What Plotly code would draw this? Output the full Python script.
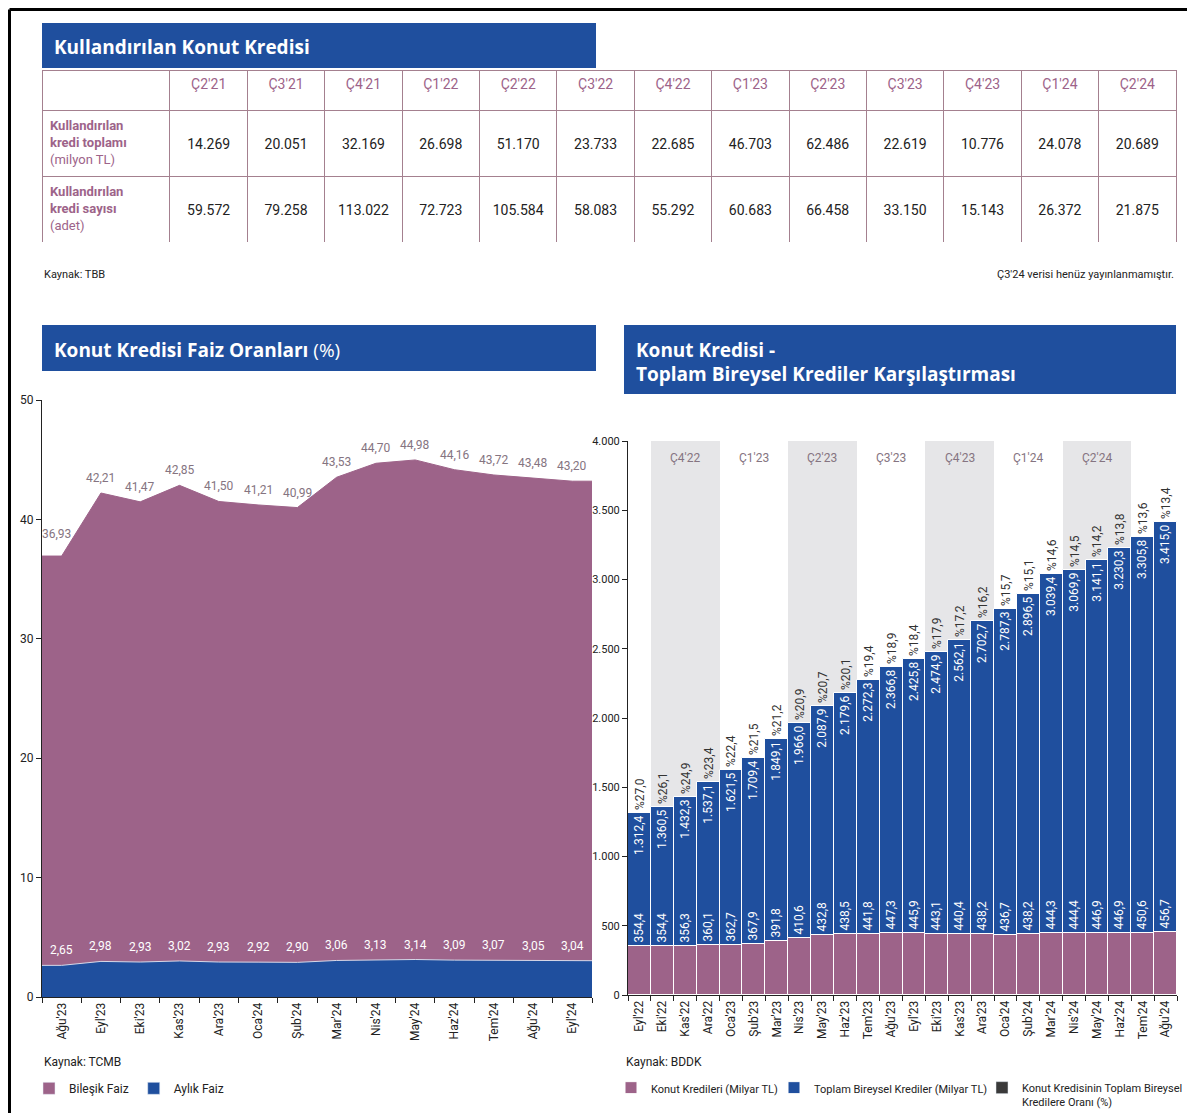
import plotly.graph_objects as go

# the page has an 8px body margin, so the figure is sized to fill the rest of the window
OFF = 8
W, H = 1195 - OFF, 1113 - OFF

# --- Kullandırılan konut kredisi (TBB) ---
table_quarters = ["Ç2'21", "Ç3'21", "Ç4'21", "Ç1'22", "Ç2'22", "Ç3'22", "Ç4'22",
                  "Ç1'23", "Ç2'23", "Ç3'23", "Ç4'23", "Ç1'24", "Ç2'24"]
credit_total = [14269, 20051, 32169, 26698, 51170, 23733, 22685, 46703, 62486, 22619, 10776, 24078, 20689]
credit_count = [59572, 79258, 113022, 72723, 105584, 58083, 55292, 60683, 66458, 33150, 15143, 26372, 21875]
row_labels = ["<b>Kullandırılan<br>kredi toplamı</b><br>(milyon TL)",
              "<b>Kullandırılan<br>kredi sayısı</b><br>(adet)"]

# --- Konut kredisi faiz oranları (TCMB) ---
rate_months = ["Ağu'23", "Eyl'23", "Eki'23", "Kas'23", "Ara'23", "Oca'24", "Şub'24",
               "Mar'24", "Nis'24", "May'24", "Haz'24", "Tem'24", "Ağu'24", "Eyl'24"]
compound_rate = [36.93, 42.21, 41.47, 42.85, 41.50, 41.21, 40.99, 43.53, 44.70, 44.98, 44.16, 43.72, 43.48, 43.20]
monthly_rate = [2.65, 2.98, 2.93, 3.02, 2.93, 2.92, 2.90, 3.06, 3.13, 3.14, 3.09, 3.07, 3.05, 3.04]

# --- Konut kredisi / toplam bireysel krediler (BDDK) ---
loan_months = ["Eyl'22", "Eki'22", "Kas'22", "Ara'22", "Oca'23", "Şub'23", "Mar'23", "Nis'23",
               "May'23", "Haz'23", "Tem'23", "Ağu'23", "Eyl'23", "Eki'23", "Kas'23", "Ara'23",
               "Oca'24", "Şub'24", "Mar'24", "Nis'24", "May'24", "Haz'24", "Tem'24", "Ağu'24"]
total_loans = [1312.4, 1360.5, 1432.3, 1537.1, 1621.5, 1709.4, 1849.1, 1966.0, 2087.9, 2179.6, 2272.3, 2366.8,
               2425.8, 2474.9, 2562.1, 2702.7, 2787.3, 2896.5, 3039.4, 3069.9, 3141.1, 3230.3, 3305.8, 3415.0]
housing_loans = [354.4, 354.4, 356.3, 360.1, 362.7, 367.9, 391.8, 410.6, 432.8, 438.5, 441.8, 447.3,
                 445.9, 443.1, 440.4, 438.2, 436.7, 438.2, 444.3, 444.4, 446.9, 446.9, 450.6, 456.7]
housing_share = [27.0, 26.1, 24.9, 23.4, 22.4, 21.5, 21.2, 20.9, 20.7, 20.1, 19.4, 18.9,
                 18.4, 17.9, 17.2, 16.2, 15.7, 15.1, 14.6, 14.5, 14.2, 13.8, 13.6, 13.4]
band_quarters = ["Ç4'22", "Ç1'23", "Ç2'23", "Ç3'23", "Ç4'23", "Ç1'24", "Ç2'24"]

BLUE = "#1f4f9e"
MAUVE = "#9d6389"
BORDER = "#a4808f"
LABEL_MAUVE = "#857481"
NARROW = "Liberation Sans Narrow, Roboto, sans-serif"
TITLE_FONT = "Open Sans, Lato, sans-serif"
Y2_MAX = 4000


def px(x):
    # window pixel -> paper
    return (x - OFF) / W


def py(y):
    return 1 - (y - OFF) / H


def tr(v, d=0):
    # Turkish number format: 1.312,4
    s = f"{v:,.{d}f}"
    return s.replace(",", "#").replace(".", ",").replace("#", ".")


fig = go.Figure()

# table
fig.add_trace(go.Table(
    domain=dict(x=[px(42), px(1176)], y=[py(242), py(70)]),
    columnwidth=[128] + [77.4] * len(table_quarters),
    header=dict(values=[""] + table_quarters, height=40, fill_color="white",
                line=dict(color=BORDER, width=1),
                font=dict(color=MAUVE, size=14, family=NARROW), align="center"),
    cells=dict(values=[row_labels] + [["\u00a0<br>" + tr(a), "\u00a0<br>" + tr(b)]
                                      for a, b in zip(credit_total, credit_count)],
               height=66, fill_color="white", line=dict(color=BORDER, width=1),
               font=dict(color=[MAUVE] + ["#222"] * len(table_quarters),
                         size=[13] + [14] * len(table_quarters), family=NARROW),
               align=["left"] + ["center"] * len(table_quarters)),
))

# faiz oranları - flat shoulders at the category edges like the original
n = len(rate_months)
xr = [-0.5] + list(range(n)) + [n - 0.5]
comp_y = [compound_rate[0]] + compound_rate + [compound_rate[-1]]
mon_y = [monthly_rate[0]] + monthly_rate + [monthly_rate[-1]]

fig.add_trace(go.Scatter(
    x=xr, y=comp_y, mode="lines", fill="tozeroy", fillcolor=MAUVE,
    line=dict(color=MAUVE, width=1), showlegend=False, hoverinfo="skip"))
fig.add_trace(go.Scatter(
    x=xr, y=mon_y, mode="lines", fill="tozeroy", fillcolor=BLUE,
    line=dict(color="#d8d8e8", width=1), showlegend=False, hoverinfo="skip"))
fig.add_trace(go.Bar(x=[None], y=[None], marker_color=MAUVE, name="Bileşik Faiz"))
fig.add_trace(go.Bar(x=[None], y=[None], marker_color=BLUE, name="Aylık Faiz"))

# quarter bands
fig.add_trace(go.Bar(
    x=[loan_months[3 * i + 2] for i in range(len(band_quarters))],
    y=[Y2_MAX] * len(band_quarters), width=3,
    marker=dict(color=["#e6e6e8" if i % 2 == 0 else "rgba(0,0,0,0)" for i in range(len(band_quarters))],
                line=dict(width=0)),
    showlegend=False, hoverinfo="skip", xaxis="x2", yaxis="y2"))

fig.add_trace(go.Bar(
    x=loan_months, y=total_loans, name="Toplam Bireysel Krediler (Milyar TL)",
    marker=dict(color=BLUE, line=dict(color="white", width=1)),
    text=[tr(v, 1) for v in total_loans], textposition="inside", insidetextanchor="end", textangle=-90,
    textfont=dict(color="white", size=12, family=NARROW), constraintext="none",
    legend="legend4", xaxis="x2", yaxis="y2"))
fig.add_trace(go.Bar(
    x=loan_months, y=housing_loans, name="Konut Kredileri (Milyar TL)",
    marker=dict(color=MAUVE, line=dict(color="white", width=1)),
    text=[tr(v, 1) for v in housing_loans], textposition="outside", textangle=-90,
    textfont=dict(color="white", size=12, family=NARROW), constraintext="none", cliponaxis=False,
    legend="legend2", xaxis="x2", yaxis="y2"))
fig.add_trace(go.Bar(
    x=loan_months, y=total_loans, marker=dict(color="rgba(0,0,0,0)", line=dict(width=0)),
    text=["%" + tr(v, 1) for v in housing_share], textposition="outside", textangle=-90,
    textfont=dict(color="#333", size=12, family=NARROW), constraintext="none", cliponaxis=False,
    showlegend=False, hoverinfo="skip", xaxis="x2", yaxis="y2"))
fig.add_trace(go.Bar(
    x=[None], y=[None], marker_color="#3a3a3a",
    name="Konut Kredisinin Toplam Bireysel<br>Kredilere Oranı (%)",
    legend="legend3", xaxis="x2", yaxis="y2"))

shapes = [
    dict(type="rect", xref="paper", yref="paper", x0=px(42), x1=px(596), y0=py(68), y1=py(23),
         fillcolor=BLUE, line=dict(width=0), layer="below"),
    dict(type="rect", xref="paper", yref="paper", x0=px(42), x1=px(596), y0=py(371), y1=py(325),
         fillcolor=BLUE, line=dict(width=0), layer="below"),
    dict(type="rect", xref="paper", yref="paper", x0=px(624), x1=px(1176), y0=py(394), y1=py(325),
         fillcolor=BLUE, line=dict(width=0), layer="below"),
    dict(type="line", xref="paper", yref="paper", x0=px(9.5), x1=px(9.5), y0=0, y1=py(9.5),
         line=dict(color="black", width=3)),
    dict(type="line", xref="paper", yref="paper", x0=px(9.5), x1=1, y0=py(9.5), y1=py(9.5),
         line=dict(color="black", width=3)),
]


def note(x, y, text, anchor="left", size=11, color="#222", family=NARROW):
    return dict(xref="paper", yref="paper", x=px(x), y=py(y), text=text, showarrow=False,
                xanchor=anchor, yanchor="middle", align="left",
                font=dict(size=size, color=color, family=family))


annotations = [
    note(52, 47, "<b>Kullandırılan Konut Kredisi</b>", size=19, color="white", family=TITLE_FONT),
    note(52, 350, "<b>Konut Kredisi Faiz Oranları</b> (%)", size=19, color="white", family=TITLE_FONT),
    note(634, 350, "<b>Konut Kredisi -</b>", size=19, color="white", family=TITLE_FONT),
    note(634, 374, "<b>Toplam Bireysel Krediler Karşılaştırması</b>", size=19, color="white", family=TITLE_FONT),
    note(42, 274, "Kaynak: TBB"),
    note(1176, 274, "Ç3'24 verisi henüz yayınlanmamıştır.", anchor="right"),
    note(42, 1062, "Kaynak: TCMB", size=12),
    note(624, 1062, "Kaynak: BDDK", size=12),
]

# value labels of the rate areas, lifted a little above each point
for i, v in enumerate(compound_rate):
    first = i == 0  # the first label sits left of the rising edge
    annotations.append(dict(xref="x", yref="y", x=i, y=v, yshift=22 if first else 15,
                            xshift=-5 if first else 0, text=tr(v, 2), showarrow=False,
                            font=dict(size=12, color=LABEL_MAUVE, family=NARROW)))
for i, v in enumerate(monthly_rate):
    annotations.append(dict(xref="x", yref="y", x=i, y=v, yshift=15, text=tr(v, 2), showarrow=False,
                            font=dict(size=12, color="white", family=NARROW)))
# quarter names at the top of the bands
for i, q in enumerate(band_quarters):
    annotations.append(dict(xref="x2", yref="y2", x=loan_months[3 * i + 2], y=Y2_MAX, yshift=-17,
                            text=q, showarrow=False,
                            font=dict(size=12, color=LABEL_MAUVE, family=NARROW)))

legend_style = dict(yanchor="top", xanchor="left", orientation="h", bgcolor="rgba(0,0,0,0)",
                    y=py(1074), valign="top", font=dict(size=11))

fig.update_layout(
    width=W, height=H, margin=dict(l=0, r=0, t=0, b=0, autoexpand=False),
    paper_bgcolor="white", plot_bgcolor="white",
    separators=",.", barmode="overlay", bargap=0,
    font=dict(family=NARROW, size=12, color="#222"),
    shapes=shapes, annotations=annotations,
    xaxis=dict(domain=[px(42), px(592)], anchor="y", range=[-0.5, n - 0.5],
               tickmode="array", tickvals=list(range(n)), ticktext=rate_months, ticks="",
               tickangle=-90, tickfont=dict(size=12), showgrid=False, zeroline=False,
               showline=True, linecolor="#222", linewidth=1,
               minor=dict(tickmode="array", tickvals=[i - 0.5 for i in range(n + 1)],
                          ticks="outside", ticklen=5, tickcolor="#222", showgrid=False)),
    yaxis=dict(domain=[py(997), py(400)], anchor="x", range=[0, 50], dtick=10,
               ticks="outside", ticklen=5, tickcolor="#222", showgrid=False, zeroline=False,
               showline=True, linecolor="#222", linewidth=1, tickfont=dict(size=12)),
    xaxis2=dict(domain=[px(628), px(1177)], anchor="y2", type="category",
                categoryorder="array", categoryarray=loan_months, range=[-0.5, len(loan_months) - 0.5],
                tickson="boundaries", ticks="outside", ticklen=5, tickcolor="#222",
                tickangle=-90, tickfont=dict(size=12), showgrid=False,
                showline=True, linecolor="#222", linewidth=1),
    yaxis2=dict(domain=[py(995), py(441)], anchor="x2", range=[0, Y2_MAX], dtick=500,
                tickformat=",.0f", ticks="outside", ticklen=5, tickcolor="#222",
                showgrid=False, zeroline=False, showline=True, linecolor="#222", linewidth=1,
                tickfont=dict(size=11)),
    legend=dict(x=px(29), **{**legend_style, "font": dict(size=12)}),
    legend2=dict(x=px(611), **legend_style),
    legend4=dict(x=px(774), **legend_style),
    legend3=dict(x=px(982), **legend_style),
)

fig.write_html("out.html")
